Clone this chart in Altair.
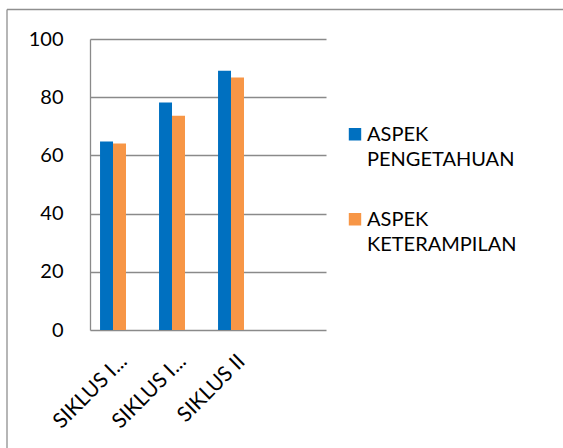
import altair as alt
import pandas as pd

# ---- data ----
categories = ["SIKLUS I PERTEMUAN 1", "SIKLUS I PERTEMUAN 2", "SIKLUS II"]
tick_labels = ["SIKLUS I...", "SIKLUS I...", "SIKLUS II"]
series = ["ASPEK PENGETAHUAN", "ASPEK KETERAMPILAN"]
pengetahuan = [64.8, 78.2, 89.1]
keterampilan = [64.1, 73.6, 86.8]
y_ticks = [0, 20, 40, 60, 80, 100]
colors = ["#0070C0", "#F79646"]

rows = []
for i, c in enumerate(categories):
    rows.append({"kategori": c, "seri": series[0], "nilai": pengetahuan[i]})
    rows.append({"kategori": c, "seri": series[1], "nilai": keterampilan[i]})
df = pd.DataFrame(rows)

label_expr = ""
for c, t in zip(categories, tick_labels):
    label_expr += f"datum.value == '{c}' ? '{t}' : "
label_expr += "datum.label"

FONT = "Lato"
GRID = "#8a8a8a"

bars = alt.Chart(df).mark_bar(strokeWidth=0).encode(
    x=alt.X(
        "kategori:N",
        sort=categories,
        scale=alt.Scale(domain=categories, paddingInner=0.56, paddingOuter=0.78, align=0.109),
        axis=alt.Axis(
            title=None, domain=False, ticks=False, grid=False,
            labelAngle=-45, labelAlign="right", labelBaseline="middle",
            labelExpr=label_expr, labelFont=FONT, labelFontSize=21,
            labelColor="#000000", labelPadding=28, labelOffset=11, labelOverlap=False,
        ),
    ),
    xOffset=alt.XOffset("seri:N", sort=series, scale=alt.Scale(domain=series, paddingInner=0, paddingOuter=0)),
    y=alt.Y(
        "nilai:Q",
        scale=alt.Scale(domain=[0, 100], nice=False, zero=True),
        axis=alt.Axis(
            title=None, values=y_ticks, grid=True, gridColor=GRID, gridWidth=1.3, gridOpacity=1,
            domain=True, domainColor=GRID, domainWidth=1.3, ticks=False,
            labelFont=FONT, labelFontSize=20, labelColor="#000000", labelPadding=27,
        ),
    ),
    color=alt.Color(
        "seri:N",
        sort=series,
        scale=alt.Scale(domain=series, range=colors),
        legend=alt.Legend(
            title=None, orient="none", legendX=255, legendY=72, padding=0,
            symbolType="M-1,-2.08L1,-2.08L1,-0.08L-1,-0.08Z", symbolSize=154,
            symbolStrokeWidth=0, symbolOpacity=1,
            labelExpr="split(datum.label, ' ')", labelBaseline="alphabetic",
            labelFont=FONT, labelFontSize=20, labelColor="#000000", labelLimit=400,
            labelOffset=2, clipHeight=60, rowPadding=25,
        ),
    ),
)

frame_df = pd.DataFrame({"k": [0]})
left_edge = alt.Chart(frame_df).mark_rule(color="#8f8f8f", strokeWidth=1.3).encode(
    x=alt.value(-83), y=alt.value(-29.5), y2=alt.value(420)
)
top_edge = alt.Chart(frame_df).mark_rule(color="#8f8f8f", strokeWidth=1.3).encode(
    x=alt.value(-83), x2=alt.value(480), y=alt.value(-29.5)
)

chart = alt.layer(bars, left_edge, top_edge).properties(
    width=236,
    height=291,
    padding={"left": 90, "top": 39, "right": 237, "bottom": 118},
    autosize=alt.AutoSizeParams(type="none"),
    background="white",
).configure(
    style={"guide-label": {"lineHeight": 25}},
    view={"stroke": None},
)

chart.save("out.html", embed_options={"renderer": "svg", "actions": False})
